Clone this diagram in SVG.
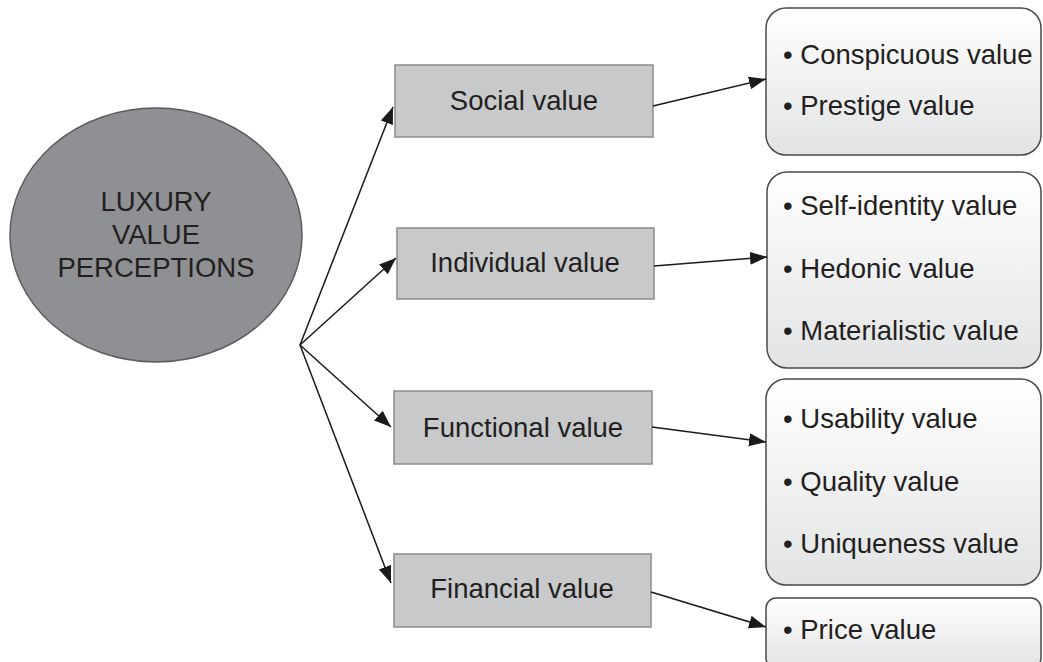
<svg xmlns="http://www.w3.org/2000/svg" width="1043" height="662" viewBox="0 0 1043 662">
<style>
text{font-family:"Liberation Sans",Arial,sans-serif;font-size:27.5px;fill:#231f20}
.cat{fill:#c8c9cb;stroke:#8a8b8d;stroke-width:1.5}
.list{fill:url(#g);stroke:#4a4a4a;stroke-width:1.5}
.c{stroke:#1a1a1a;stroke-width:1.5;fill:none;marker-end:url(#ah)}
.m{text-anchor:middle}
</style>
<defs>
<linearGradient id="g" x1="0" y1="0" x2="0" y2="1">
<stop offset="0" stop-color="#ffffff"/>
<stop offset="1" stop-color="#e2e3e4"/>
</linearGradient>
<marker id="ah" markerUnits="userSpaceOnUse" markerWidth="19" markerHeight="15" refX="17" refY="6.5" orient="auto">
<path d="M0,0 L17,6.5 L0,13 z" fill="#1a1a1a"/>
</marker>
</defs>
<g id="luxury">
<ellipse cx="156" cy="235" rx="146" ry="127" fill="#8e9093" stroke="#5a5b5d" stroke-width="1.5"/>
<text class="m" x="156" y="211">LUXURY</text>
<text class="m" x="156" y="244">VALUE</text>
<text class="m" x="156" y="277">PERCEPTIONS</text>
</g>
<g id="social">
<rect class="cat" x="395" y="65" width="258" height="72"/>
<text class="m" x="524" y="110">Social value</text>
</g>
<g id="individual">
<rect class="cat" x="397" y="228" width="257" height="71"/>
<text class="m" x="525" y="272">Individual value</text>
</g>
<g id="functional">
<rect class="cat" x="394" y="391" width="258" height="73"/>
<text class="m" x="523" y="437">Functional value</text>
</g>
<g id="financial">
<rect class="cat" x="394" y="554" width="257" height="73"/>
<text class="m" x="522" y="598">Financial value</text>
</g>
<g id="social-list">
<rect class="list" x="766" y="8" width="275" height="147" rx="20"/>
<text x="783" y="64">• Conspicuous value</text>
<text x="783" y="115">• Prestige value</text>
</g>
<g id="individual-list">
<rect class="list" x="767" y="172" width="274" height="196" rx="20"/>
<text x="783" y="215">• Self-identity value</text>
<text x="783" y="278">• Hedonic value</text>
<text x="783" y="340">• Materialistic value</text>
</g>
<g id="functional-list">
<rect class="list" x="766" y="379" width="275" height="206" rx="20"/>
<text x="783" y="428">• Usability value</text>
<text x="783" y="491">• Quality value</text>
<text x="783" y="553">• Uniqueness value</text>
</g>
<g id="financial-list">
<rect class="list" x="766" y="598" width="275" height="70" rx="10"/>
<text x="783" y="639">• Price value</text>
</g>
<g id="connectors">
<line class="c" x1="300" y1="345" x2="393" y2="107"/>
<line class="c" x1="300" y1="345" x2="396" y2="258"/>
<line class="c" x1="300" y1="345" x2="391" y2="427"/>
<line class="c" x1="300" y1="345" x2="391" y2="583"/>
<line class="c" x1="653" y1="106" x2="766" y2="79"/>
<line class="c" x1="654" y1="266" x2="767" y2="257"/>
<line class="c" x1="652" y1="427" x2="766" y2="442"/>
<line class="c" x1="651" y1="592" x2="766" y2="627"/>
</g>
</svg>
